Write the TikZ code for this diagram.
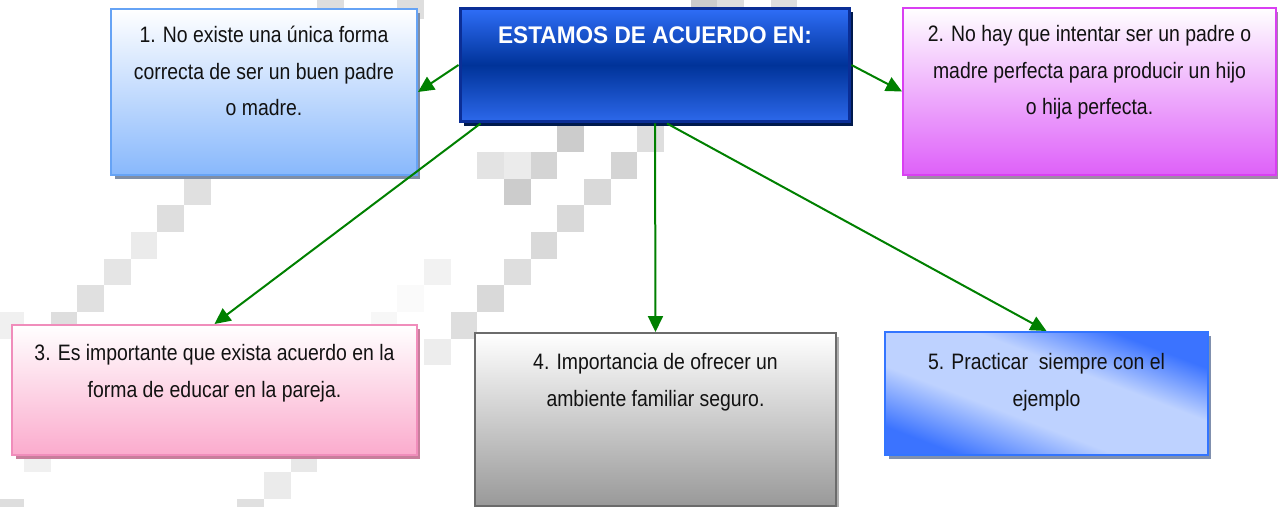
\documentclass[tikz,border=0pt]{standalone}
\usepackage{fontspec}
\setmainfont{Liberation Sans}[FakeStretch=0.87]
\newfontfamily\titlefont{Liberation Sans}[FakeStretch=0.94]
\usetikzlibrary{arrows.meta,shadows,positioning}

\definecolor{linkgreen}{HTML}{008000}
\definecolor{oneline}{HTML}{66A3F5}
\definecolor{onefill}{HTML}{88B8FC}
\definecolor{oneshade}{HTML}{7F8EA6}
\definecolor{mainline}{HTML}{0B2E96}
\definecolor{maintop}{HTML}{2F6EF8}
\definecolor{mainmid}{HTML}{003399}
\definecolor{mainshade}{HTML}{001A4D}
\definecolor{twoline}{HTML}{D93FF2}
\definecolor{twofill}{HTML}{DE60F9}
\definecolor{twoshade}{HTML}{A088A8}
\definecolor{threeline}{HTML}{F08DBB}
\definecolor{threefill}{HTML}{FBABCD}
\definecolor{threeshade}{HTML}{C87E9C}
\definecolor{fourline}{HTML}{6B6B6B}
\definecolor{fourfill}{HTML}{999999}
\definecolor{fourshade}{HTML}{B0B0B0}
\definecolor{fiveline}{HTML}{3375FF}
\definecolor{fiveblue}{HTML}{3B73FF}
\definecolor{fivelight}{HTML}{BED2FF}
\definecolor{fiveshade}{HTML}{8090AE}

% diagonal light band of box 5
\pgfdeclarehorizontalshading{fiveband}{100bp}{color(0bp)=(fiveblue); color(25bp)=(fiveblue);
  color(41bp)=(fivelight); color(59bp)=(fivelight); color(73bp)=(fiveblue); color(100bp)=(fiveblue)}

\begin{document}
\begin{tikzpicture}[x=0.02cm, y=-0.02cm,
  box/.style={draw, line width=0.04cm, inner sep=0pt},
  boxshadow/.style={drop shadow={shadow xshift=0.07cm, shadow yshift=-0.08cm, opacity=1, fill=#1}},
  boxtext/.style={anchor=north, inner sep=0pt, align=center, text=black!93,
    font=\fontsize{12.7}{20.8}\selectfont},
  link/.style={draw=linkgreen, line width=0.04cm, -{Triangle[length=0.32cm,width=0.3cm]}}]

\useasboundingbox (0,0) rectangle (1278,507);

% checker tiles behind the map
\foreach \i/\j/\g in {7/7/88, 6/8/87, 5/9/92, 4/10/90, 3/11/88, 2/12/87, 0/12/94,
    16/10/95, 15/11/98, 14/12/97, 17/12/87, 16/13/93,
    21/5/80, 24/5/87, 18/6/89, 19/6/92, 20/6/83, 23/6/83, 19/7/80, 22/7/85,
    21/8/85, 20/9/85, 19/10/87, 18/11/85,
    1/17/94, 11/17/91, 10/18/92, 9/19/88, 0/19/87,
    12/0/87, 15/0/87, 26/0/80, 27/0/87, 29/0/87}
  \fill[white!\g!black] (-2.7+26.67*\i, -8+26.67*\j) rectangle ++(26.67,26.67);

% central box
\node[box, draw=mainline, line width=0.06cm, top color=maintop, bottom color=maintop!95!black,
  middle color=mainmid, minimum width=7.8cm, minimum height=2.28cm, boxshadow=mainshade] (c) at (655,65) {};
\node[anchor=north, inner sep=0pt, text=white, font=\titlefont\bfseries\fontsize{13.7}{16}\selectfont]
  (ctext) at ([yshift=-0.4cm]c.north) {ESTAMOS DE ACUERDO EN:};

% upper boxes
\node[box, draw=oneline, top color=white, bottom color=onefill,
  minimum width=6.12cm, minimum height=3.32cm, boxshadow=oneshade] (b1) at (264,92) {};
\node[boxtext] (t1) at ([yshift=-0.36cm]b1.north)
  {1. No existe una única forma\\correcta de ser un buen padre\\o madre.};

\node[box, draw=twoline, top color=white, bottom color=twofill,
  minimum width=7.46cm, minimum height=3.34cm, boxshadow=twoshade] (b2) at (1089.5,91.5) {};
\node[boxtext] (t2) at ([yshift=-0.36cm]b2.north)
  {2. No hay que intentar ser un padre o\\madre perfecta para producir un hijo\\o hija perfecta.};

% lower boxes
\node[box, draw=threeline, top color=white, bottom color=threefill,
  minimum width=8.1cm, minimum height=2.6cm, boxshadow=threeshade] (b3) at (214.5,390) {};
\node[boxtext] (t3) at ([yshift=-0.4cm]b3.north)
  {3. Es importante que exista acuerdo en la\\forma de educar en la pareja.};

\node[box, draw=fourline, top color=white, bottom color=fourfill,
  minimum width=7.22cm, minimum height=3.46cm, boxshadow=fourshade] (b4) at (655.5,419.5) {};
\node[boxtext] (t4) at ([yshift=-0.42cm]b4.north)
  {4. Importancia de ofrecer un\\ambiente familiar seguro.};

\node[box, draw=fiveline, shading=fiveband, shading angle=69,
  minimum width=6.46cm, minimum height=2.46cm, boxshadow=fiveshade] (b5) at (1046.5,393.5) {};
\node[boxtext] (t5) at ([yshift=-0.44cm]b5.north)
  {5. Practicar\ \ siempre con el\\ejemplo};

% connectors
\draw[link] (c.west) -- (b1.east);
\draw[link] (c.east) -- (b2.west);
\draw[link] ([xshift=0.44cm]c.south west) -- (b3.north);
\draw[link] (c.south) -- (b4.north);
\draw[link] ([xshift=0.24cm]c.south) -- (b5.north);
\end{tikzpicture}
\end{document}
